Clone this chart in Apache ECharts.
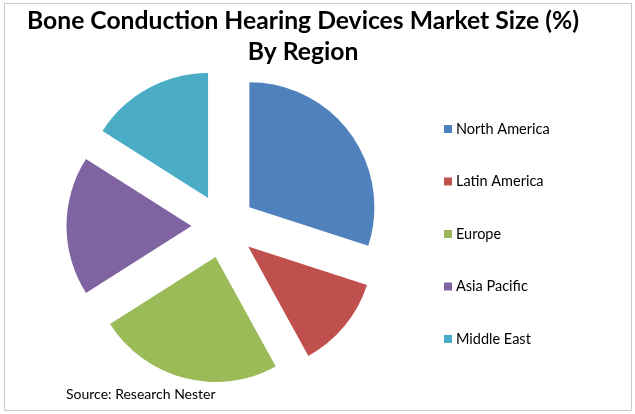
<!DOCTYPE html>
<html>
<head>
<meta charset="utf-8">
<script src="https://cdn.jsdelivr.net/npm/echarts@6/dist/echarts.min.js"></script>
<style>
html,body{margin:0;padding:0;background:#fff;}
#chart{width:635px;height:414px;}
</style>
</head>
<body>
<div id="chart"></div>
<script>
const categories = ['North America', 'Latin America', 'Europe', 'Asia Pacific', 'Middle East'];
const shares = [30, 12, 24, 18, 16];
const colors = ['#4F81BD', '#C0504D', '#9BBB59', '#8064A2', '#4BACC6'];
const titleLines = ['Bone Conduction Hearing Devices Market Size (%)', 'By Region'];
const sourceText = 'Source: Research Nester';

const FONT = 'Lato, "Open Sans", sans-serif';
const chart = echarts.init(document.getElementById('chart'), null, {renderer: 'canvas'});
chart.setOption({
  animation: false,
  color: colors,
  legend: {
    orient: 'vertical',
    left: 444,
    top: 121,
    padding: 0,
    itemWidth: 8,
    itemHeight: 8,
    itemGap: 36.5,
    icon: 'rect',
    selectedMode: false,
    textStyle: {fontFamily: FONT, fontSize: 14.5, color: '#000', lineHeight: 16, padding: [0, 0, 0, -1]},
    data: categories
  },
  series: [{
    type: 'pie',
    center: [223.5, 226],
    radius: [0, 125],
    startAngle: 90,
    clockwise: true,
    selectedMode: 'multiple',
    selectedOffset: 32,
    avoidLabelOverlap: false,
    label: {show: false},
    labelLine: {show: false},
    emphasis: {disabled: true},
    itemStyle: {borderWidth: 0},
    data: categories.map((c, i) => ({name: c, value: shares[i], selected: true}))
  }],
  graphic: [
    {type: 'rect', shape: {x: 4.5, y: 3.5, width: 627, height: 407}, style: {fill: 'none', stroke: '#c8c8c8', lineWidth: 1}, silent: true},
    {type: 'text', x: 303, y: 21, style: {text: titleLines[0], fill: '#000', font: 'bold 24.7px ' + FONT, textAlign: 'center', textVerticalAlign: 'middle'}},
    {type: 'text', x: 303, y: 52, style: {text: titleLines[1], fill: '#000', font: 'bold 24.7px ' + FONT, textAlign: 'center', textVerticalAlign: 'middle'}},
    {type: 'text', x: 66, y: 394, style: {text: sourceText, fill: '#000', font: '14px ' + FONT, textAlign: 'left', textVerticalAlign: 'middle'}}
  ]
});
</script>
</body>
</html>
